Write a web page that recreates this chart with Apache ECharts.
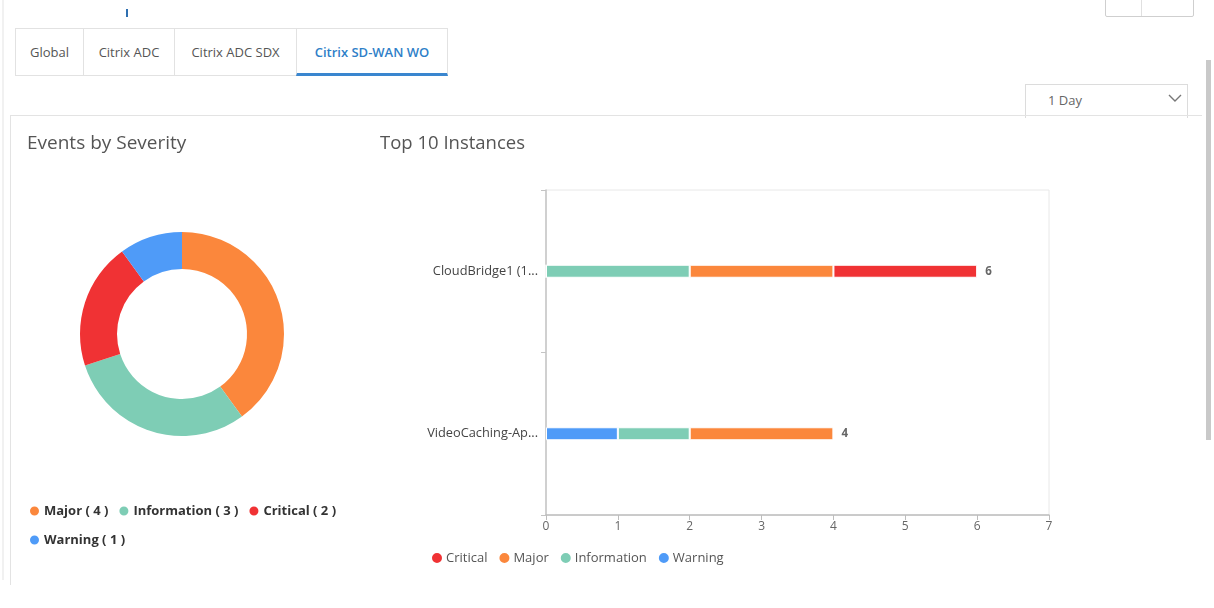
<!DOCTYPE html>
<html>
<head>
<meta charset="utf-8">
<script src="https://cdn.jsdelivr.net/npm/echarts@6/dist/echarts.min.js"></script>
<style>
  html, body { margin: 0; padding: 0; background: #fff; }
  body { width: 1214px; height: 608px; position: relative; overflow: hidden; font-family: "Open Sans", "Noto Sans", sans-serif; }
  #chart { position: absolute; left: 0; top: 0; width: 1214px; height: 608px; }
  .abs { position: absolute; box-sizing: border-box; }
  .tab { position: absolute; top: 28px; height: 48px; border: 1px solid #e2e2e2; background: #fff;
         font-size: 13px; color: #555; line-height: 46px; text-align: center; box-sizing: border-box; }
  .tab.active { color: #2f7fc8; font-weight: 600; border-bottom: 3px solid #3a86cf; line-height: 46px; }
</style>
</head>
<body>
<div class="abs" style="left:2px;top:0;width:2px;height:580px;background:#f1f1f1;"></div>
<div class="abs" style="left:126px;top:9px;width:2px;height:8px;background:#2f6fb0;"></div>
<div class="abs" style="left:1105px;top:-2px;width:89px;height:19px;border:1px solid #cfcfcf;border-radius:2px;"></div>
<div class="abs" style="left:1141px;top:0;width:1px;height:16px;background:#e0e0e0;"></div>
<div class="abs" style="left:1206px;top:60px;width:5px;height:380px;background:#c9c9c9;"></div>
<div class="tab" style="left:15px;width:69px;">Global</div>
<div class="tab" style="left:83px;width:92px;">Citrix ADC</div>
<div class="tab" style="left:174px;width:123px;">Citrix ADC SDX</div>
<div class="tab active" style="left:296px;width:152px;">Citrix SD-WAN WO</div>
<div class="abs" style="left:1025px;top:84px;width:163px;height:34px;border:1px solid #dcdcdc;border-bottom:none;font-size:13px;color:#666;padding:6px 0 0 22px;">1 Day</div>
<svg class="abs" style="left:1168px;top:94px;" width="14" height="9"><polyline points="1,1 7,7 13,1" fill="none" stroke="#777" stroke-width="1.4"/></svg>
<div class="abs" style="left:10px;top:115px;width:1192px;height:470px;border-top:1px solid #e3e3e3;border-left:1px solid #e3e3e3;"></div>
<div id="chart"></div>
<script>
// ---- data ----
var severityNames = ['Major', 'Information', 'Critical', 'Warning'];
var severityCounts = [4, 3, 2, 1];
var severityColors = ['#fb873c', '#7ecdb5', '#f03234', '#4f9bf8'];

var instances = ['CloudBridge1 (1...', 'VideoCaching-Ap...'];
var warningVals = [0, 1];
var informationVals = [2, 1];
var majorVals = [2, 2];
var criticalVals = [2, 0];
var xTicks = [0, 1, 2, 3, 4, 5, 6, 7];
var barLegendOrder = ['Critical', 'Major', 'Information', 'Warning'];

var colorOf = {};
severityNames.forEach(function (n, i) { colorOf[n] = severityColors[i]; });
var totals = instances.map(function (_, i) {
  return warningVals[i] + informationVals[i] + majorVals[i] + criticalVals[i];
});

var chart = echarts.init(document.getElementById('chart'), null, { renderer: 'canvas' });
var font = '"Open Sans", "Noto Sans", sans-serif';

function barSeries(name, vals) {
  return {
    name: name, type: 'bar', stack: 'sev', xAxisIndex: 0, yAxisIndex: 0,
    barWidth: 13, data: vals,
    itemStyle: { color: colorOf[name], borderColor: '#fff', borderWidth: 1 },
    emphasis: { disabled: true }
  };
}

var option = {
  animation: false,
  textStyle: { fontFamily: font },
  title: [
    { text: 'Events by Severity', left: 27, top: 134, padding: 0, textStyle: { fontSize: 19, fontWeight: 'normal', color: '#555', fontFamily: font } },
    { text: 'Top 10 Instances', left: 380, top: 134, padding: 0, textStyle: { fontSize: 18.5, fontWeight: 'normal', color: '#555', fontFamily: font } }
  ],
  legend: [
    {
      data: severityNames, left: 28, top: 501, width: 330, orient: 'horizontal',
      icon: 'circle', itemWidth: 11, itemHeight: 11, itemGap: 9, padding: 0,
      selectedMode: false,
      formatter: function (name) {
        return name + ' ( ' + severityCounts[severityNames.indexOf(name)] + ' )';
      },
      textStyle: { fontSize: 13, fontWeight: 'bold', color: '#333', fontFamily: font, height: 20, lineHeight: 20, padding: [0, 0, 0, -1] }
    },
    {
      data: barLegendOrder, left: 430, top: 551, orient: 'horizontal',
      icon: 'circle', itemWidth: 12, itemHeight: 12, itemGap: 10, padding: 0,
      selectedMode: false,
      textStyle: { fontSize: 13, color: '#555', fontFamily: font, padding: [0, 0, 0, -2] }
    }
  ],
  grid: [{
    left: 546, right: 165, top: 190, bottom: 93,
    show: true, borderColor: '#e8e8e8', borderWidth: 1
  }],
  xAxis: [{
    type: 'value', gridIndex: 0, min: 0, max: 7, interval: 1,
    axisLine: { show: true, lineStyle: { color: '#bdbdbd', width: 1.5 } },
    axisTick: { show: true, length: 5, lineStyle: { color: '#bdbdbd' } },
    axisLabel: { color: '#666', fontSize: 12, margin: 6, fontFamily: font,
      formatter: function (v) { return xTicks.indexOf(v) >= 0 ? String(v) : ''; } },
    splitLine: { show: false }
  }],
  yAxis: [{
    type: 'category', gridIndex: 0, data: instances, inverse: true,
    axisLine: { show: true, lineStyle: { color: '#c4c4c4', width: 1.5 } },
    axisTick: { show: true, length: 5, lineStyle: { color: '#c4c4c4' } },
    axisLabel: { color: '#444', fontSize: 12.8, margin: 8, fontFamily: font },
    splitLine: { show: false }
  }],
  series: [
    {
      name: 'Events by Severity', type: 'pie', center: [182, 334], radius: [65, 102],
      startAngle: 90, clockwise: true, avoidLabelOverlap: false,
      label: { show: false }, labelLine: { show: false },
      emphasis: { disabled: true },
      itemStyle: { borderColor: '#fff', borderWidth: 0 },
      data: severityNames.map(function (n, i) {
        return { name: n, value: severityCounts[i], itemStyle: { color: severityColors[i] } };
      })
    },
    barSeries('Warning', warningVals),
    barSeries('Information', informationVals),
    barSeries('Major', majorVals),
    barSeries('Critical', criticalVals),
    {
      name: 'Total', type: 'bar', stack: 'sev', barWidth: 13, silent: true,
      data: instances.map(function () { return 0; }),
      itemStyle: { color: 'rgba(0,0,0,0)' },
      label: {
        show: true, position: 'right', distance: 8, color: '#666', fontSize: 11.5, fontWeight: 'bold', fontFamily: font,
        formatter: function (p) { return String(totals[p.dataIndex]); }
      }
    }
  ]
};
chart.setOption(option);
</script>
</body>
</html>
